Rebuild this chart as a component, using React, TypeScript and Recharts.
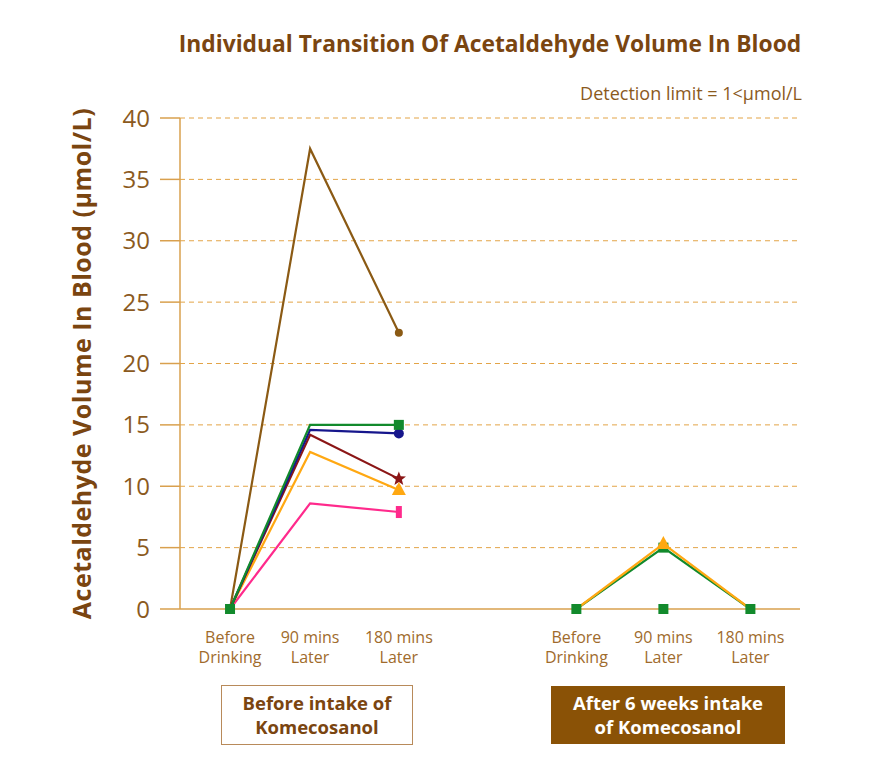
import React from "react";
import { LineChart, Line, XAxis, YAxis, CartesianGrid } from "recharts";

// x slot positions (category slots on the time axis)
const xSlots = [0, 0.92, 1.94, 3.98, 4.98, 5.98];
const xLabels = [
  ["Before", "Drinking"],
  ["90 mins", "Later"],
  ["180 mins", "Later"],
  ["Before", "Drinking"],
  ["90 mins", "Later"],
  ["180 mins", "Later"],
];
const yTicks = [0, 5, 10, 15, 20, 25, 30, 35, 40];

// Before intake (left group): before, 90 mins, 180 mins
const subjectBrown = [0, 37.5, 22.5];
const subjectGreen = [0, 15.0, 15.0];
const subjectNavy = [0, 14.6, 14.3];
const subjectRed = [0, 14.2, 10.6];
const subjectOrange = [0, 12.8, 9.7];
const subjectPink = [0, 8.6, 7.9];
// After 6 weeks (right group)
const afterOrange = [0, 5.3, 0];
const afterGreen = [0, 5.0, 0];
const afterGreenZero = [0];

const leftX = xSlots.slice(0, 3);
const rightX = xSlots.slice(3, 6);
const toData = (xs: number[], ys: number[]) => ys.map((v, i) => ({ x: xs[i], y: v }));

const AXIS = "#D9A04E";
const GRID = "#E3A447";
const TEXT = "#8B5A1E";
const DARK = "#7A4510";

type Shape = "circle" | "smallCircle" | "square" | "star" | "triangle" | "bar";

function drawShape(shape: Shape, cx: number, cy: number, color: string, key: string) {
  if (shape === "circle") return <circle key={key} cx={cx} cy={cy} r={5} fill={color} />;
  if (shape === "smallCircle") return <circle key={key} cx={cx} cy={cy} r={4} fill={color} />;
  if (shape === "square")
    return <rect key={key} x={cx - 5} y={cy - 5} width={10} height={10} fill={color} />;
  if (shape === "bar")
    return <rect key={key} x={cx - 3} y={cy - 6} width={6} height={12} fill={color} />;
  if (shape === "triangle")
    return (
      <polygon
        key={key}
        points={`${cx},${cy - 8} ${cx - 7},${cy + 5} ${cx + 7},${cy + 5}`}
        fill={color}
      />
    );
  const pts: string[] = [];
  for (let i = 0; i < 10; i++) {
    const r = i % 2 === 0 ? 7.5 : 3.2;
    const a = -Math.PI / 2 + (i * Math.PI) / 5;
    pts.push(`${cx + r * Math.cos(a)},${cy + r * Math.sin(a)}`);
  }
  return <polygon key={key} points={pts.join(" ")} fill={color} />;
}

const makeDot = (shape: Shape, color: string, show: number[]) => (props: any) => {
  const { cx, cy, index } = props;
  const key = `d-${shape}-${color}-${index}`;
  if (!show.includes(index) || cx == null || cy == null) return <g key={key} />;
  return drawShape(shape, cx, cy, color, key);
};

const XTick = (props: any) => {
  const { x, y, index } = props;
  const lines = xLabels[index] || ["", ""];
  return (
    <g>
      <text
        x={x}
        y={y + 26}
        textAnchor="middle"
        fill="#A06B2C"
        fontSize={16}
        fontFamily="'Open Sans', sans-serif"
      >
        <tspan x={x} dy={0}>{lines[0]}</tspan>
        <tspan x={x} dy={20}>{lines[1]}</tspan>
      </text>
    </g>
  );
};

const YLabel = (props: any) => {
  const vb = props.viewBox || { x: 0, y: 0, height: 0 };
  const cx = vb.x + 1;
  const cy = vb.y + vb.height / 2;
  return (
    <text
      x={cx}
      y={cy}
      transform={`rotate(-90 ${cx} ${cy})`}
      textAnchor="middle"
      dominantBaseline="central"
      fill={DARK}
      fontSize={25}
      fontWeight={700}
      letterSpacing={0.5}
      fontFamily="'Open Sans', sans-serif"
    >
      Acetaldehyde Volume In Blood (µmol/L)
    </text>
  );
};

export default function App() {
  const font = "'Open Sans', sans-serif";
  return (
    <div
      style={{
        position: "absolute",
        left: 0,
        top: 0,
        width: 875,
        height: 766,
        background: "#fff",
        fontFamily: font,
      }}
    >
      <div
        style={{
          position: "absolute",
          left: 130,
          width: 720,
          top: 29,
          textAlign: "center",
          fontSize: 22.8,
          fontWeight: 700,
          color: DARK,
          lineHeight: "30px",
          whiteSpace: "nowrap",
        }}
      >
        Individual Transition Of Acetaldehyde Volume In Blood
      </div>
      <div
        style={{
          position: "absolute",
          right: 875 - 802,
          top: 80,
          fontSize: 18,
          color: TEXT,
          lineHeight: "26px",
          whiteSpace: "nowrap",
        }}
      >
        Detection limit = 1&lt;µmol/L
      </div>

      <div style={{ position: "absolute", left: 0, top: 0 }}>
        <LineChart
          width={875}
          height={766}
          margin={{ top: 118, right: 75, bottom: 97, left: 80 }}
        >
          <CartesianGrid
            vertical={false}
            horizontalValues={yTicks.slice(1)}
            stroke={GRID}
            strokeDasharray="5 4"
          />
          <XAxis
            type="number"
            dataKey="x"
            domain={[-0.575, 6.55]}
            ticks={xSlots}
            tick={<XTick />}
            tickLine={false}
            axisLine={{ stroke: AXIS, strokeWidth: 1.5 }}
            height={60}
            allowDataOverflow
            interval={0}
          />
          <YAxis
            type="number"
            domain={[0, 40]}
            ticks={yTicks}
            width={100}
            tickSize={20}
            tickMargin={10}
            interval={0}
            axisLine={{ stroke: AXIS, strokeWidth: 1.5 }}
            tickLine={{ stroke: AXIS, strokeWidth: 1.5 }}
            tick={{ fill: TEXT, fontSize: 24, fontFamily: font }}
            label={YLabel}
          />
          <Line
            data={toData(leftX, subjectBrown)}
            dataKey="y"
            stroke="#8B5A14"
            strokeWidth={2.2}
            dot={makeDot("smallCircle", "#8B5A14", [2])}
            isAnimationActive={false}
          />
          <Line
            data={toData(leftX, subjectPink)}
            dataKey="y"
            stroke="#FF2A8C"
            strokeWidth={2.2}
            dot={makeDot("bar", "#FF2A8C", [2])}
            isAnimationActive={false}
          />
          <Line
            data={toData(leftX, subjectOrange)}
            dataKey="y"
            stroke="#FFA812"
            strokeWidth={2.2}
            dot={makeDot("triangle", "#FFA812", [2])}
            isAnimationActive={false}
          />
          <Line
            data={toData(leftX, subjectRed)}
            dataKey="y"
            stroke="#8B1616"
            strokeWidth={2.2}
            dot={makeDot("star", "#8B1616", [2])}
            isAnimationActive={false}
          />
          <Line
            data={toData(leftX, subjectNavy)}
            dataKey="y"
            stroke="#16168C"
            strokeWidth={2.2}
            dot={makeDot("circle", "#16168C", [2])}
            isAnimationActive={false}
          />
          <Line
            data={toData(leftX, subjectGreen)}
            dataKey="y"
            stroke="#128A2C"
            strokeWidth={2.2}
            dot={makeDot("square", "#128A2C", [0, 2])}
            isAnimationActive={false}
          />
          <Line
            data={toData(rightX, afterGreen)}
            dataKey="y"
            stroke="#128A2C"
            strokeWidth={2.2}
            dot={makeDot("square", "#128A2C", [0, 1, 2])}
            isAnimationActive={false}
          />
          <Line
            data={toData(rightX, afterOrange)}
            dataKey="y"
            stroke="#FFA812"
            strokeWidth={2.2}
            dot={makeDot("triangle", "#FFA812", [1])}
            isAnimationActive={false}
          />
          <Line
            data={toData(rightX.slice(1, 2), afterGreenZero)}
            dataKey="y"
            stroke="#128A2C"
            strokeWidth={2.2}
            dot={makeDot("square", "#128A2C", [0])}
            isAnimationActive={false}
          />
        </LineChart>
      </div>

      <div
        style={{
          position: "absolute",
          left: 221,
          top: 685,
          width: 190,
          height: 58,
          border: "1px solid #B88A5A",
          display: "flex",
          alignItems: "center",
          justifyContent: "center",
          textAlign: "center",
          fontSize: 18.5,
          fontWeight: 700,
          color: DARK,
          lineHeight: "24px",
        }}
      >
        Before intake of
        <br />
        Komecosanol
      </div>
      <div
        style={{
          position: "absolute",
          left: 551,
          top: 686,
          width: 234,
          height: 58,
          background: "#8A5206",
          display: "flex",
          alignItems: "center",
          justifyContent: "center",
          textAlign: "center",
          fontSize: 18.5,
          fontWeight: 700,
          color: "#fff",
          lineHeight: "24px",
        }}
      >
        After 6 weeks intake
        <br />
        of Komecosanol
      </div>
    </div>
  );
}
